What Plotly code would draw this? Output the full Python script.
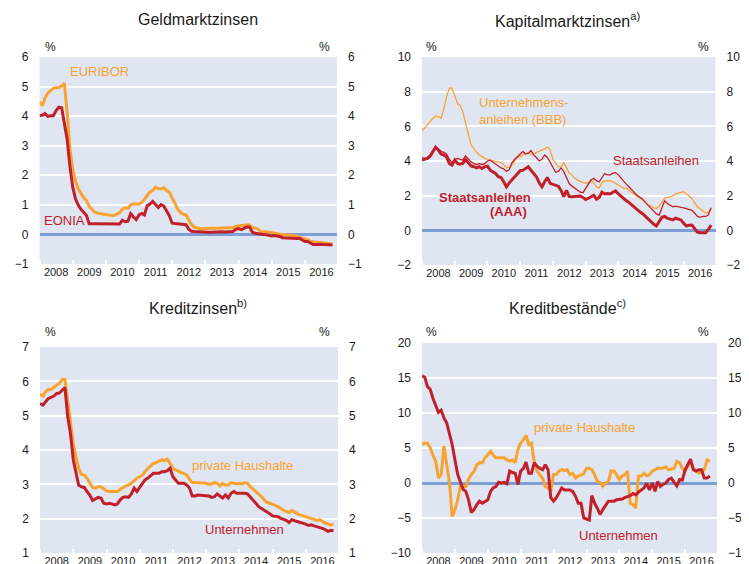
import pandas as pd
import plotly.graph_objects as go

# --------------------------------------------------------------
# Data (monthly, Jan 2008 onwards, % p.a. / % yoy)
# --------------------------------------------------------------
euribor = [4.48, 4.36, 4.60, 4.78, 4.86, 4.94, 4.96, 4.97, 5.02, 5.11, 4.10, 2.90,
           2.20, 1.80, 1.55, 1.38, 1.25, 1.15, 0.95, 0.85, 0.75, 0.72, 0.71, 0.70,
           0.68, 0.66, 0.64, 0.64, 0.69, 0.73, 0.85, 0.90, 0.88, 1.00, 1.04, 1.02,
           1.02, 1.09, 1.18, 1.32, 1.43, 1.49, 1.60, 1.55, 1.54, 1.58, 1.48, 1.43,
           1.22, 1.05, 0.86, 0.74, 0.68, 0.66, 0.50, 0.33, 0.25, 0.21, 0.19, 0.19,
           0.20, 0.22, 0.21, 0.21, 0.20, 0.21, 0.22, 0.23, 0.22, 0.23, 0.22, 0.27,
           0.29, 0.29, 0.31, 0.33, 0.32, 0.24, 0.21, 0.19, 0.10, 0.08, 0.08, 0.08,
           0.06, 0.05, 0.03, 0.00, -0.01, -0.01, -0.02, -0.03, -0.04, -0.05, -0.09, -0.13,
           -0.15, -0.18, -0.23, -0.25, -0.26, -0.27, -0.29, -0.30, -0.30, -0.31, -0.32]
eonia = [4.02, 4.03, 4.09, 3.99, 4.01, 4.01, 4.19, 4.30, 4.28, 3.80, 3.20, 2.30,
         1.60, 1.20, 1.00, 0.85, 0.75, 0.65, 0.36, 0.35, 0.36, 0.36, 0.36, 0.35,
         0.34, 0.34, 0.35, 0.35, 0.34, 0.35, 0.48, 0.43, 0.45, 0.70, 0.59, 0.50,
         0.66, 0.71, 0.66, 0.97, 1.03, 1.12, 1.01, 0.91, 1.01, 0.96, 0.79, 0.63,
         0.38, 0.37, 0.36, 0.35, 0.34, 0.33, 0.18, 0.11, 0.10, 0.09, 0.08, 0.07,
         0.07, 0.07, 0.07, 0.08, 0.08, 0.09, 0.09, 0.08, 0.08, 0.09, 0.10, 0.17,
         0.20, 0.16, 0.19, 0.25, 0.25, 0.08, 0.04, 0.02, 0.01, 0.00, -0.01, -0.03,
         -0.05, -0.04, -0.05, -0.07, -0.11, -0.12, -0.12, -0.12, -0.14, -0.14, -0.13, -0.20,
         -0.24, -0.24, -0.29, -0.34, -0.34, -0.33, -0.33, -0.34, -0.34, -0.35, -0.36]

bbb = [5.75, 5.90, 6.10, 6.30, 6.45, 6.60, 6.55, 6.45, 7.00, 7.70, 8.20, 8.20,
       7.80, 7.30, 7.20, 6.85, 6.20, 5.50, 4.95, 4.70, 4.50, 4.35, 4.25, 4.15,
       4.10, 4.05, 4.00, 3.98, 3.95, 3.90, 3.78, 3.62, 3.65, 3.75, 4.00, 4.20,
       4.25, 4.35, 4.43, 4.45, 4.40, 4.43, 4.50, 4.55, 4.60, 4.70, 4.80, 4.65,
       4.10, 3.85, 3.66, 3.66, 3.90, 3.60, 3.30, 3.20, 3.00, 2.90, 2.80, 2.75,
       2.72, 2.75, 2.88, 2.75, 2.50, 2.45, 2.75, 2.85, 2.85, 2.85, 2.80, 2.70,
       2.60, 2.50, 2.42, 2.42, 2.30, 2.15, 2.05, 1.95, 1.85, 1.75, 1.60, 1.45,
       1.40, 1.30, 1.26, 1.40, 1.65, 1.85, 1.90, 1.95, 1.98, 2.10, 2.15, 2.20,
       2.23, 2.10, 1.95, 1.84, 1.60, 1.35, 1.26, 1.10, 0.98, 1.05, 1.26]
staat = [4.20, 4.15, 4.20, 4.35, 4.60, 4.80, 4.70, 4.55, 4.50, 4.40, 4.10, 3.90,
         4.10, 4.15, 4.10, 4.05, 4.30, 4.10, 3.95, 3.85, 3.80, 3.85, 3.80, 3.85,
         4.00, 4.05, 3.95, 3.80, 3.70, 3.60, 3.55, 3.40, 3.50, 3.90, 4.10, 4.25,
         4.35, 4.55, 4.40, 4.45, 4.60, 4.35, 4.20, 4.00, 4.10, 4.35, 4.20, 3.90,
         3.60, 3.35, 3.40, 3.60, 3.40, 3.00, 2.70, 2.55, 2.42, 2.30, 2.20, 2.17,
         2.40, 2.70, 2.90, 3.00, 2.85, 2.80, 3.05, 3.28, 3.20, 3.20, 3.30, 3.33,
         3.20, 3.00, 2.80, 2.65, 2.50, 2.32, 2.15, 2.00, 1.90, 1.80, 1.60, 1.45,
         1.30, 1.10, 0.95, 0.88, 1.30, 1.70, 1.55, 1.45, 1.36, 1.40, 1.35, 1.32,
         1.30, 1.25, 1.20, 1.15, 1.00, 0.80, 0.75, 0.80, 0.80, 0.88, 1.30]
aaa = [4.05, 4.10, 4.15, 4.28, 4.55, 4.80, 4.63, 4.40, 4.34, 4.24, 3.86, 3.76,
       4.05, 3.86, 3.82, 3.86, 4.09, 3.90, 3.72, 3.67, 3.60, 3.67, 3.57, 3.67,
       3.70, 3.47, 3.38, 3.28, 3.09, 3.05, 2.80, 2.51, 2.74, 2.90, 3.09, 3.28,
       3.44, 3.47, 3.57, 3.67, 3.47, 3.28, 3.09, 2.74, 2.51, 2.80, 3.05, 2.71,
       2.67, 2.61, 2.55, 2.30, 1.95, 2.30, 1.95, 1.94, 1.95, 1.98, 1.98, 1.90,
       1.78, 1.85, 1.95, 2.03, 1.80, 1.90, 2.20, 2.10, 2.13, 2.10, 2.20, 2.28,
       2.10, 1.95, 1.84, 1.70, 1.60, 1.46, 1.30, 1.15, 1.05, 0.95, 0.80, 0.65,
       0.45, 0.35, 0.25, 0.50, 0.75, 0.80, 0.70, 0.65, 0.60, 0.70, 0.65, 0.60,
       0.40, 0.25, 0.30, 0.31, 0.10, -0.10, -0.14, -0.14, -0.14, 0.05, 0.30]

kz_haushalte = [5.63, 5.57, 5.69, 5.76, 5.76, 5.84, 5.89, 5.94, 6.05, 6.05, 5.45, 4.77,
                4.19, 3.76, 3.47, 3.29, 3.27, 3.18, 3.05, 2.91, 2.89, 2.93, 2.93, 2.86,
                2.81, 2.79, 2.79, 2.79, 2.79, 2.86, 2.91, 2.95, 2.98, 3.03, 3.11, 3.18,
                3.22, 3.27, 3.37, 3.47, 3.53, 3.61, 3.63, 3.66, 3.71, 3.69, 3.73, 3.61,
                3.47, 3.42, 3.37, 3.34, 3.32, 3.27, 3.15, 3.05, 3.05, 3.05, 3.03, 3.05,
                3.03, 3.00, 3.01, 3.05, 3.03, 2.95, 3.03, 2.98, 2.98, 3.05, 3.03, 3.01,
                3.03, 3.01, 3.05, 3.03, 2.93, 2.86, 2.79, 2.72, 2.64, 2.55, 2.47, 2.45,
                2.42, 2.37, 2.35, 2.30, 2.24, 2.21, 2.18, 2.24, 2.18, 2.14, 2.11, 2.08,
                2.06, 2.04, 2.01, 1.97, 1.95, 1.97, 1.92, 1.87, 1.85, 1.82, 1.84]
kz_unternehmen = [5.35, 5.31, 5.40, 5.50, 5.53, 5.57, 5.64, 5.66, 5.74, 5.82, 4.97, 4.48,
                  3.71, 3.27, 2.98, 2.93, 2.91, 2.79, 2.69, 2.53, 2.57, 2.62, 2.60, 2.45,
                  2.43, 2.45, 2.43, 2.40, 2.43, 2.55, 2.62, 2.64, 2.62, 2.72, 2.89, 2.79,
                  2.91, 3.01, 3.13, 3.18, 3.24, 3.32, 3.32, 3.32, 3.37, 3.37, 3.40, 3.47,
                  3.22, 3.13, 3.03, 3.03, 3.03, 2.98, 2.89, 2.66, 2.66, 2.69, 2.69, 2.69,
                  2.67, 2.66, 2.62, 2.64, 2.72, 2.66, 2.60, 2.69, 2.60, 2.74, 2.79, 2.74,
                  2.74, 2.76, 2.74, 2.72, 2.62, 2.53, 2.45, 2.35, 2.30, 2.26, 2.21, 2.14,
                  2.08, 2.06, 2.06, 2.01, 1.99, 1.95, 1.89, 1.97, 1.94, 1.92, 1.89, 1.87,
                  1.84, 1.80, 1.82, 1.79, 1.77, 1.75, 1.72, 1.68, 1.63, 1.66, 1.65]

kb_haushalte = [5.5, 5.7, 5.7, 5.0, 4.0, 3.1, 0.7, 1.2, 5.3, 2.9, 0.0, -4.8,
                -3.8, -2.4, -0.5, -0.5, -0.5, 0.5, 1.2, 1.7, 2.6, 2.9, 2.9, 3.6,
                4.0, 4.5, 4.0, 3.6, 3.6, 3.6, 3.6, 3.3, 3.1, 3.3, 2.9, 4.8,
                5.7, 6.2, 6.8, 5.5, 5.7, 2.9, 1.7, 1.2, 0.7, -0.5, -0.7, -1.2,
                1.2, 1.2, 1.7, 1.9, 1.8, 1.9, 1.2, 1.4, 0.7, 1.0, 1.2, 1.3,
                2.1, 2.1, 1.9, 1.2, 0.2, 0.1, -0.5, 0.0, 0.2, 1.7, 1.7, 1.2,
                0.5, 1.0, 1.2, 1.7, -2.9, -3.1, -3.6, 1.0, 1.0, 1.4, 1.0, 1.2,
                1.7, 1.9, 2.1, 2.1, 2.1, 2.3, 1.9, 2.0, 2.1, 3.1, 2.9, 2.1,
                1.7, 2.4, 3.1, 2.1, 1.7, 1.4, 1.5, 1.9, 3.3, 3.1]
kb_unternehmen = [15.3, 15.1, 13.8, 13.4, 12.1, 11.0, 10.1, 10.4, 9.3, 8.6, 7.1, 5.5,
                  3.3, 1.2, 0.2, -0.9, -1.2, -2.4, -4.2, -3.8, -3.1, -2.6, -2.9, -2.6,
                  -2.4, -1.2, -0.7, -0.5, 0.1, 0.0, 0.1, -0.1, 1.7, 1.5, 1.4, -0.2,
                  1.7, 2.1, 3.0, 1.4, 1.4, 2.9, 2.4, 2.1, 1.9, 2.6, 1.9, -2.1,
                  -2.6, -2.1, -1.4, -0.7, -1.0, -1.0, -1.0, -1.2, -1.9, -2.9, -2.9, -5.0,
                  -5.2, -5.3, -1.8, -2.9, -3.6, -4.5, -3.8, -3.2, -2.6, -2.6, -2.6, -2.4,
                  -2.4, -2.3, -2.1, -2.0, -1.8, -1.5, -1.7, -1.3, -1.0, -0.7, -0.1, -1.0,
                  0.0, -1.2, 0.2, -0.5, -0.2, 0.0, 0.5, 0.7, 0.1, -0.4, 0.5, 0.4,
                  1.9, 2.6, 3.4, 1.9, 1.7, 1.9, 1.9, 0.7, 0.7, 1.0]

months = pd.date_range("2008-01-01", periods=107, freq="MS")

# --------------------------------------------------------------
# Style / geometry
# --------------------------------------------------------------
ORANGE = "#f8a330"
RED = "#c1202b"
BG = "#dfe6f2"
ZERO = "#7d9fd5"
FONT = "Arial, Liberation Sans, sans-serif"

# the page puts the figure 8px in from the top-left corner
OFF = 8
W, H = 749 - OFF, 564 - OFF


def fx(x):
    return (x - OFF) / W


def fy(y):
    return 1 - (y - OFF) / H


fig = go.Figure()


def add(series, color, width, xa, ya):
    fig.add_trace(go.Scatter(x=months[:len(series)], y=series, mode="lines",
                             line=dict(color=color, width=width),
                             xaxis=xa, yaxis=ya, showlegend=False))


add(euribor, ORANGE, 3, "x", "y")
add(eonia, RED, 3, "x", "y5")
add(bbb, ORANGE, 1.3, "x2", "y2")
add(staat, RED, 1.3, "x2", "y2")
add(aaa, RED, 3, "x2", "y6")
add(kz_haushalte, ORANGE, 3, "x3", "y3")
add(kz_unternehmen, RED, 3, "x3", "y7")
add(kb_haushalte, ORANGE, 3, "x4", "y4")
add(kb_unternehmen, RED, 3, "x4", "y8")

# plot areas in screen pixels: (left, right, top, bottom)
boxes = {1: (39.5, 337, 57, 264), 2: (422, 715.5, 57, 265),
         3: (40, 338, 347, 553), 4: (422, 717, 343, 553)}
yranges = {1: (-1, 6, 1), 2: (-2, 10, 2), 3: (1, 7, 1), 4: (-10, 20, 5)}

layout = dict(
    width=W, height=H,
    margin=dict(l=0, r=0, t=0, b=0),
    paper_bgcolor="white",
    plot_bgcolor=BG,
    font=dict(family=FONT, size=12, color="#1a1a1a"),
    showlegend=False,
)

for i in range(1, 5):
    sx = "" if i == 1 else str(i)
    l, r, t, b = boxes[i]
    lo, hi, step = yranges[i]
    tv = list(range(lo, hi + 1, step))
    layout["xaxis" + sx] = dict(
        domain=[fx(l), fx(r)], anchor="y" + sx, type="date",
        range=["2008-01-01", "2016-12-20"],
        dtick="M12", tick0="2008-01-01", tickformat="%Y", ticklabelmode="period",
        ticks="inside", ticklen=4, tickwidth=2, tickcolor="white",
        showgrid=False, zeroline=False, showline=False,
        tickfont=dict(size=11), automargin=False,
    )
    layout["yaxis" + sx] = dict(
        domain=[fy(b), fy(t)], anchor="x" + sx, range=[lo, hi], tickvals=tv,
        showgrid=True, gridcolor="white", gridwidth=2,
        zeroline=(lo < 0), zerolinecolor=ZERO, zerolinewidth=3,
        showline=False, ticks="", ticklabelstandoff=10,
        tickfont=dict(size=12), automargin=False,
    )
    layout["yaxis" + str(i + 4)] = dict(
        overlaying="y" + sx, side="right", anchor="x" + sx,
        range=[lo, hi], tickvals=tv,
        showgrid=False, zeroline=False, showline=False, ticks="",
        ticklabelstandoff=10, tickfont=dict(size=12), automargin=False,
    )

fig.update_layout(**layout)


def note(text, x, y, color="#1a1a1a", size=13, xanchor="left", align="left"):
    fig.add_annotation(text=text, x=fx(x), y=fy(y), xref="paper", yref="paper",
                       xanchor=xanchor, yanchor="middle", align=align, showarrow=False,
                       font=dict(family=FONT, size=size, color=color))


# titles
note("Geldmarktzinsen", 198, 20, size=16, xanchor="center")
note("Kapitalmarktzinsen<sup>a)</sup>", 567, 20, size=16, xanchor="center")
note("Kreditzinsen<sup>b)</sup>", 198, 307, size=16, xanchor="center")
note("Kreditbestände<sup>c)</sup>", 567, 307, size=16, xanchor="center")

# unit labels
for px_, py_ in [(50, 47), (324, 47), (432, 47), (703, 47),
                 (50, 332), (324, 332), (432, 332), (703, 332)]:
    note("%", px_, py_, size=12, xanchor="center")

# series labels
note("EURIBOR", 68, 72, ORANGE)
note("EONIA", 42, 220, RED)
note("Unternehmens-<br>anleihen (BBB)", 477, 111, ORANGE)
note("Staatsanleihen", 611, 160, RED)
note("<b>Staatsanleihen</b>", 437, 197, RED)
note("<b>(AAA)</b>", 488, 212, RED)
note("private Haushalte", 190, 465, ORANGE)
note("Unternehmen", 203, 529, RED)
note("private Haushalte", 532, 427, ORANGE)
note("Unternehmen", 577, 535, RED)

fig.write_html("out.html")
